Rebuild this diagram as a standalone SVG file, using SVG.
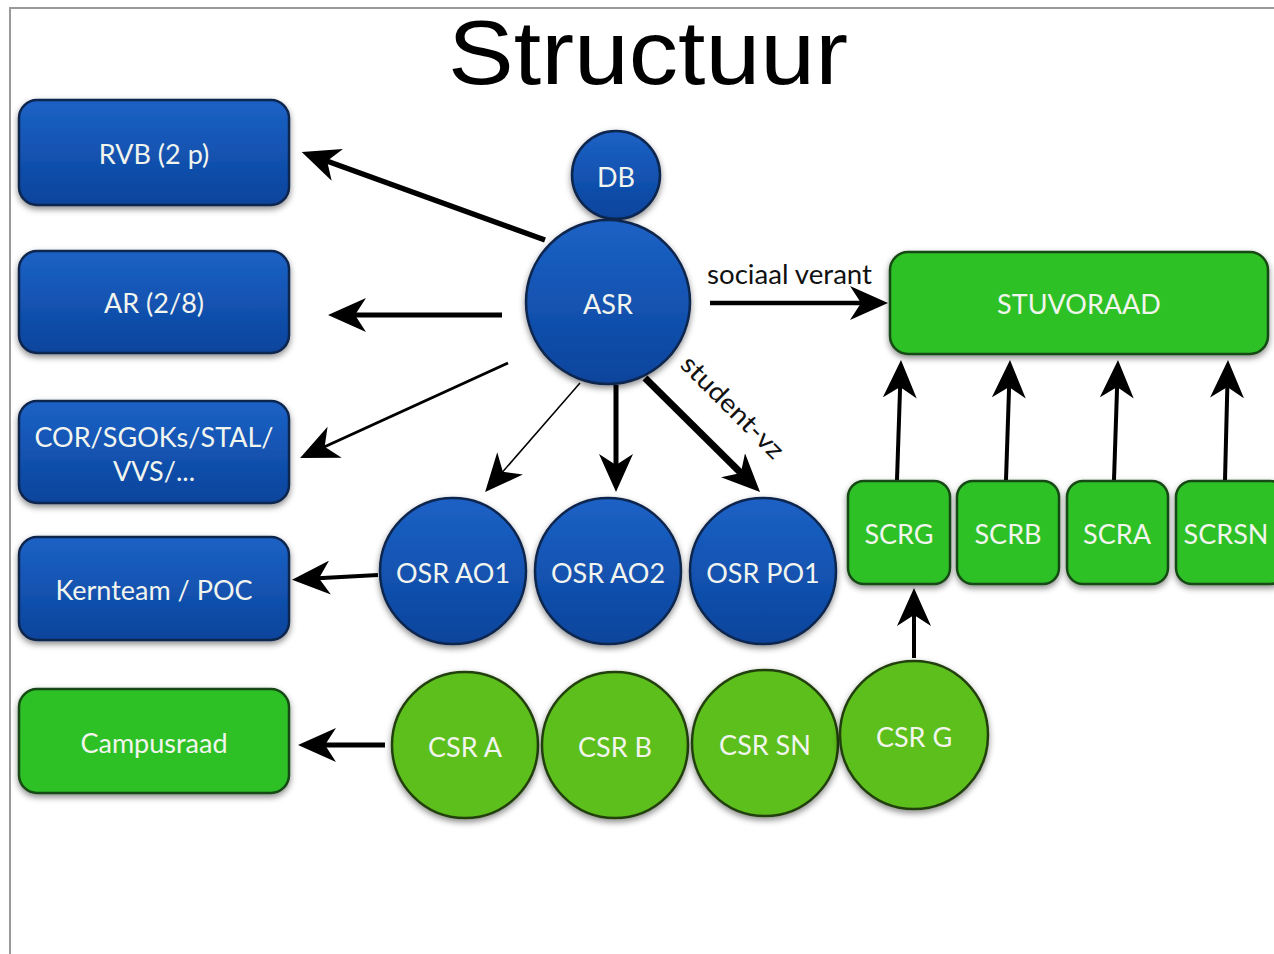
<svg xmlns="http://www.w3.org/2000/svg" width="1274" height="954" viewBox="0 0 1274 954">
<defs>
<style>
.lbl{font-family:Lato,"Open Sans","Liberation Sans",sans-serif;font-size:27px;fill:#f2f5ee;text-anchor:middle;dominant-baseline:central;}
.blue{fill:url(#gBlue);stroke:#10254d;stroke-width:2.5;filter:url(#sh);}
.gbox{fill:#2dc128;stroke:#174a12;stroke-width:2.5;filter:url(#sh);}
.gcirc{fill:#5dbf1d;stroke:#24400e;stroke-width:2.5;filter:url(#sh);}
.c{stroke:#000;fill:none;marker-end:url(#ah);}
.note{font-family:Lato,"Open Sans","Liberation Sans",sans-serif;font-size:26px;fill:#111;}
</style>
<linearGradient id="gBlue" x1="0" y1="0" x2="0" y2="1">
<stop offset="0" stop-color="#1c62c6"/>
<stop offset="1" stop-color="#0a449c"/>
</linearGradient>
<filter id="sh" x="-20%" y="-20%" width="140%" height="150%">
<feDropShadow dx="0" dy="3" stdDeviation="3" flood-color="#000" flood-opacity="0.45"/>
</filter>
<marker id="ah" markerUnits="userSpaceOnUse" viewBox="0 0 38 34" markerWidth="38" markerHeight="34" refX="26" refY="17" orient="auto">
<path d="M38,17 L0,0 L11,17 L0,34 Z" fill="#000"/>
</marker>
</defs>
<rect width="1274" height="954" fill="#fff"/>
<path d="M10,954 V8 H1274" fill="none" stroke="#9a9a9a" stroke-width="2"/>
<text x="648" y="84" font-family="'Liberation Sans',Arial,sans-serif" font-size="91" text-anchor="middle" fill="#000" textLength="400" lengthAdjust="spacingAndGlyphs">Structuur</text>

<g id="connectors">
<line class="c" x1="545" y1="240" x2="313" y2="156" stroke-width="5.5"/>
<line class="c" x1="502" y1="315" x2="340" y2="315" stroke-width="5"/>
<line class="c" x1="508" y1="363" x2="311" y2="453" stroke-width="3"/>
<line class="c" x1="580" y1="383" x2="493" y2="483" stroke-width="1.5"/>
<line class="c" x1="616" y1="385" x2="616" y2="480" stroke-width="5"/>
<line class="c" x1="645" y1="378" x2="751.5" y2="483.6" stroke-width="7"/>
<line class="c" x1="710" y1="303" x2="876" y2="303" stroke-width="4.5"/>
<line class="c" x1="378" y1="575" x2="304" y2="579" stroke-width="4"/>
<line class="c" x1="385" y1="745" x2="310" y2="745" stroke-width="5"/>
<line class="c" x1="914" y1="658" x2="914" y2="600" stroke-width="4"/>
<line class="c" x1="897" y1="480" x2="900.6" y2="372" stroke-width="4"/>
<line class="c" x1="1006" y1="480" x2="1009.6" y2="372" stroke-width="4"/>
<line class="c" x1="1114" y1="480" x2="1117.6" y2="372" stroke-width="4"/>
<line class="c" x1="1225" y1="480" x2="1227.7" y2="372" stroke-width="4"/>
<text class="note" x="707" y="284" textLength="165" lengthAdjust="spacingAndGlyphs">sociaal verant</text>
<text class="note" transform="translate(679,366) rotate(45)" textLength="134" lengthAdjust="spacingAndGlyphs">student-vz</text>
</g>

<g id="rvb"><rect class="blue" x="19" y="100" width="270" height="105" rx="18"/><text class="lbl" x="154" y="153">RVB (2 p)</text></g>
<g id="ar"><rect class="blue" x="19" y="251" width="270" height="102" rx="18"/><text class="lbl" x="154" y="302">AR (2/8)</text></g>
<g id="cor"><rect class="blue" x="19" y="401" width="270" height="102" rx="18"/><text class="lbl" x="154" y="436">COR/SGOKs/STAL/</text><text class="lbl" x="154" y="470">VVS/...</text></g>
<g id="kernteam"><rect class="blue" x="19" y="537" width="270" height="103" rx="18"/><text class="lbl" x="154" y="589">Kernteam / POC</text></g>
<g id="campusraad"><rect class="gbox" x="19" y="689" width="270" height="104" rx="18"/><text class="lbl" x="154" y="742">Campusraad</text></g>

<g id="db"><circle class="blue" cx="616" cy="175" r="44"/><text class="lbl" x="616" y="176">DB</text></g>
<g id="asr"><circle class="blue" cx="608" cy="302" r="82"/><text class="lbl" x="608" y="303">ASR</text></g>

<g id="osr-ao1"><circle class="blue" cx="453" cy="571" r="73"/><text class="lbl" x="453" y="572">OSR AO1</text></g>
<g id="osr-ao2"><circle class="blue" cx="608" cy="571" r="73"/><text class="lbl" x="608" y="572">OSR AO2</text></g>
<g id="osr-po1"><circle class="blue" cx="763" cy="571" r="73"/><text class="lbl" x="763" y="572">OSR PO1</text></g>

<g id="csr-a"><circle class="gcirc" cx="465" cy="745" r="73"/><text class="lbl" x="465" y="746">CSR A</text></g>
<g id="csr-b"><circle class="gcirc" cx="615" cy="745" r="73"/><text class="lbl" x="615" y="746">CSR B</text></g>
<g id="csr-sn"><circle class="gcirc" cx="765" cy="743" r="73"/><text class="lbl" x="765" y="744">CSR SN</text></g>
<g id="csr-g"><circle class="gcirc" cx="914" cy="735" r="74"/><text class="lbl" x="914" y="736">CSR G</text></g>

<g id="stuvoraad"><rect class="gbox" x="890" y="252" width="378" height="102" rx="18"/><text class="lbl" x="1079" y="303">STUVORAAD</text></g>
<g id="scrg"><rect class="gbox" x="848" y="481" width="102" height="103" rx="16"/><text class="lbl" x="899" y="533">SCRG</text></g>
<g id="scrb"><rect class="gbox" x="957" y="481" width="102" height="103" rx="16"/><text class="lbl" x="1008" y="533">SCRB</text></g>
<g id="scra"><rect class="gbox" x="1067" y="481" width="101" height="103" rx="16"/><text class="lbl" x="1117" y="533">SCRA</text></g>
<g id="scrsn"><rect class="gbox" x="1176" y="481" width="110" height="103" rx="16"/><text class="lbl" x="1226" y="533">SCRSN</text></g>
</svg>
